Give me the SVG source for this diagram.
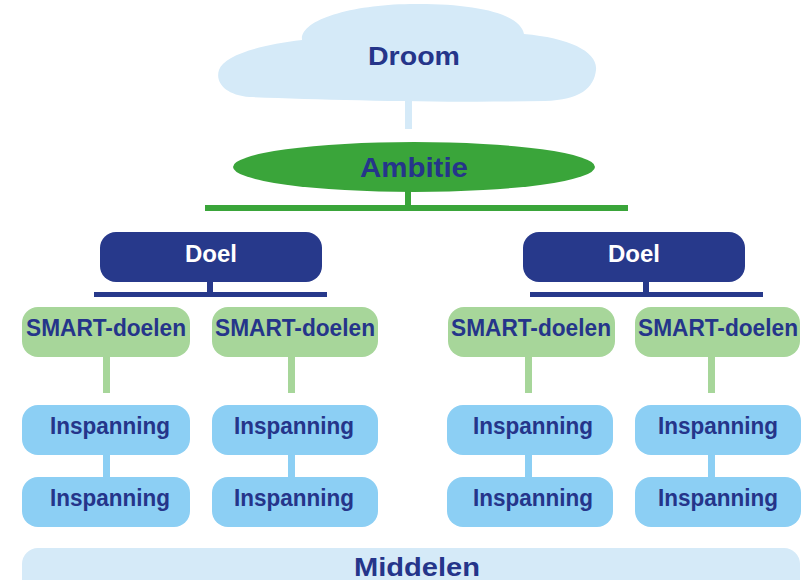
<svg xmlns="http://www.w3.org/2000/svg" width="803" height="580" viewBox="0 0 803 580">
<style>
text{font-family:"Liberation Sans",Arial,sans-serif;font-weight:700;text-anchor:middle}
.navy{fill:#25358a}
.white{fill:#ffffff}
.doel{fill:#27398b}
.smart{fill:#a7d69a}
.insp{fill:#8ccff4}
.light{fill:#d5eaf8}
.t22{font-size:23px}
.t24{font-size:25px}
</style>
<rect width="803" height="580" fill="#ffffff"/>
<g id="connectors">
  <rect class="light" x="405" y="99" width="7" height="30"/>
  <rect fill="#3aa53a" x="405" y="190" width="6" height="18"/>
  <rect fill="#3aa53a" x="205" y="205" width="423" height="6"/>
  <rect class="doel" x="207" y="280" width="6" height="14"/>
  <rect class="doel" x="94" y="292" width="233" height="5"/>
  <rect class="doel" x="643" y="280" width="6" height="14"/>
  <rect class="doel" x="530" y="292" width="233" height="5"/>
  <rect class="smart" x="103" y="355" width="7" height="38"/>
  <rect class="smart" x="288" y="355" width="7" height="38"/>
  <rect class="smart" x="525" y="355" width="7" height="38"/>
  <rect class="smart" x="708" y="355" width="7" height="38"/>
  <rect class="insp" x="103" y="453" width="7" height="26"/>
  <rect class="insp" x="288" y="453" width="7" height="26"/>
  <rect class="insp" x="525" y="453" width="7" height="26"/>
  <rect class="insp" x="708" y="453" width="7" height="26"/>
</g>
<g id="droom">
  <path class="light" d="M 250 97 C 225 95 215 82 219 70 C 224 55 260 45 302 40 C 300 20 350 5 410 4 C 470 3 520 12 524 34 C 570 38 598 52 596 70 C 594 88 580 100 545 101 C 450 103 330 100 250 97 Z"/>
  <text class="navy t24" x="414" y="65" textLength="92" lengthAdjust="spacingAndGlyphs">Droom</text>
</g>
<g id="ambitie">
  <ellipse fill="#3aa53a" cx="414" cy="167" rx="181" ry="25"/>
  <text class="navy" style="font-size:27px" x="414" y="177" textLength="108" lengthAdjust="spacingAndGlyphs">Ambitie</text>
</g>
<g id="doel-left">
  <rect class="doel" x="100" y="232" width="222" height="50" rx="16"/>
  <text class="white t22" x="211" y="262" textLength="52" lengthAdjust="spacingAndGlyphs">Doel</text>
</g>
<g id="doel-right">
  <rect class="doel" x="523" y="232" width="222" height="50" rx="16"/>
  <text class="white t22" x="634" y="262" textLength="52" lengthAdjust="spacingAndGlyphs">Doel</text>
</g>
<g id="smart-1">
  <rect class="smart" x="22" y="307" width="168" height="50" rx="16"/>
  <text class="navy t22" x="106" y="336" textLength="160" lengthAdjust="spacingAndGlyphs">SMART-doelen</text>
</g>
<g id="smart-2">
  <rect class="smart" x="212" y="307" width="166" height="50" rx="16"/>
  <text class="navy t22" x="295" y="336" textLength="160" lengthAdjust="spacingAndGlyphs">SMART-doelen</text>
</g>
<g id="smart-3">
  <rect class="smart" x="448" y="307" width="167" height="50" rx="16"/>
  <text class="navy t22" x="531" y="336" textLength="160" lengthAdjust="spacingAndGlyphs">SMART-doelen</text>
</g>
<g id="smart-4">
  <rect class="smart" x="635" y="307" width="165" height="50" rx="16"/>
  <text class="navy t22" x="718" y="336" textLength="160" lengthAdjust="spacingAndGlyphs">SMART-doelen</text>
</g>
<g id="insp-1a">
  <rect class="insp" x="22" y="405" width="168" height="50" rx="16"/>
  <text class="navy t22" x="110" y="434" textLength="120" lengthAdjust="spacingAndGlyphs">Inspanning</text>
</g>
<g id="insp-1b">
  <rect class="insp" x="22" y="477" width="168" height="50" rx="16"/>
  <text class="navy t22" x="110" y="506" textLength="120" lengthAdjust="spacingAndGlyphs">Inspanning</text>
</g>
<g id="insp-2a">
  <rect class="insp" x="212" y="405" width="166" height="50" rx="16"/>
  <text class="navy t22" x="294" y="434" textLength="120" lengthAdjust="spacingAndGlyphs">Inspanning</text>
</g>
<g id="insp-2b">
  <rect class="insp" x="212" y="477" width="166" height="50" rx="16"/>
  <text class="navy t22" x="294" y="506" textLength="120" lengthAdjust="spacingAndGlyphs">Inspanning</text>
</g>
<g id="insp-3a">
  <rect class="insp" x="447" y="405" width="166" height="50" rx="16"/>
  <text class="navy t22" x="533" y="434" textLength="120" lengthAdjust="spacingAndGlyphs">Inspanning</text>
</g>
<g id="insp-3b">
  <rect class="insp" x="447" y="477" width="166" height="50" rx="16"/>
  <text class="navy t22" x="533" y="506" textLength="120" lengthAdjust="spacingAndGlyphs">Inspanning</text>
</g>
<g id="insp-4a">
  <rect class="insp" x="635" y="405" width="166" height="50" rx="16"/>
  <text class="navy t22" x="718" y="434" textLength="120" lengthAdjust="spacingAndGlyphs">Inspanning</text>
</g>
<g id="insp-4b">
  <rect class="insp" x="635" y="477" width="166" height="50" rx="16"/>
  <text class="navy t22" x="718" y="506" textLength="120" lengthAdjust="spacingAndGlyphs">Inspanning</text>
</g>
<g id="middelen">
  <rect class="light" x="22" y="548" width="778" height="50" rx="16"/>
  <text class="navy t24" x="417" y="576" textLength="126" lengthAdjust="spacingAndGlyphs">Middelen</text>
</g>
</svg>
